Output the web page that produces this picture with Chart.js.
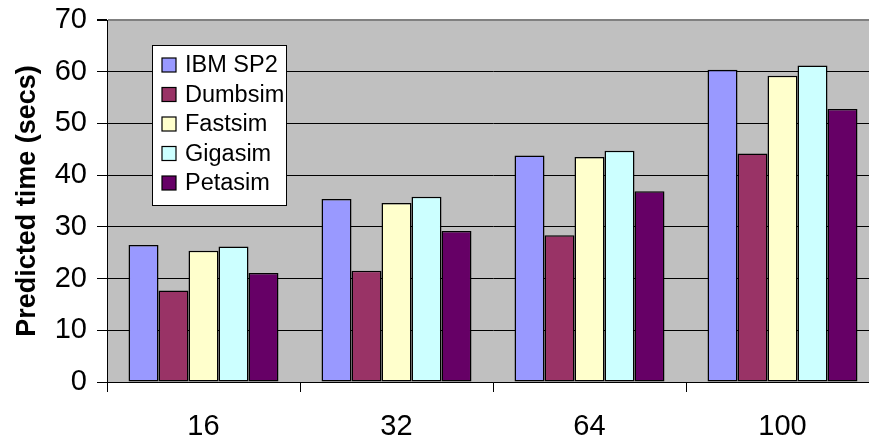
<!DOCTYPE html>
<html>
<head>
<meta charset="utf-8">
<script src="https://cdn.jsdelivr.net/npm/chart.js@4/dist/chart.umd.min.js"></script>
<style>
  html, body { margin: 0; padding: 0; background: #fff; overflow: hidden; }
  #wrap { width: 880px; height: 442px; }
</style>
</head>
<body>
<div id="wrap"><canvas id="c" width="880" height="442"></canvas></div>
<script>
// Processor counts on the x axis
const processors = ['16', '32', '64', '100'];

// Predicted run time (seconds) for each simulator
const ibmSP2   = [26.5, 35.4, 43.8, 60.4];
const dumbsim  = [17.7, 21.5, 28.4, 44.2];
const fastsim  = [25.4, 34.6, 43.5, 59.2];
const gigasim  = [26.2, 35.8, 44.7, 61.2];
const petasim  = [21.1, 29.2, 36.9, 52.8];

const seriesNames = ['IBM SP2', 'Dumbsim', 'Fastsim', 'Gigasim', 'Petasim'];
const seriesData = [ibmSP2, dumbsim, fastsim, gigasim, petasim];
const seriesColors = ['#9999FF', '#993366', '#FFFFCC', '#CCFFFF', '#660066'];

const FONT = '"Liberation Sans", Arial, sans-serif';

// Grey plot background behind the bars
const plotBackground = {
  id: 'plotBackground',
  beforeDraw(chart) {
    const { ctx, chartArea: a } = chart;
    ctx.save();
    ctx.fillStyle = '#C0C0C0';
    ctx.fillRect(a.left, a.top, a.right - a.left, a.bottom - a.top);
    ctx.restore();
  }
};

// Boxed legend floating inside the plot area
const boxedLegend = {
  id: 'boxedLegend',
  afterDraw(chart) {
    const { ctx } = chart;
    const x = 152, y = 45, w = 134, h = 160;
    ctx.save();
    ctx.fillStyle = '#fff';
    ctx.fillRect(x, y, w, h);
    ctx.strokeStyle = '#000';
    ctx.lineWidth = 1;
    ctx.strokeRect(x + 0.5, y + 0.5, w, h);
    ctx.font = '23.5px ' + FONT;
    ctx.textBaseline = 'middle';
    chart.data.datasets.forEach((ds, i) => {
      const cy = 65 + i * 29.5;
      ctx.fillStyle = ds.backgroundColor;
      ctx.fillRect(162, cy - 7, 14, 14);
      ctx.strokeStyle = '#000';
      ctx.lineWidth = 1.2;
      ctx.strokeRect(162, cy - 7, 14, 14);
      ctx.fillStyle = '#000';
      ctx.fillText(ds.label, 185, cy + 1);
    });
    ctx.restore();
  }
};

new Chart(document.getElementById('c'), {
  type: 'bar',
  data: {
    labels: processors,
    datasets: seriesNames.map((name, i) => ({
      label: name,
      data: seriesData[i],
      backgroundColor: seriesColors[i],
      borderColor: '#000',
      borderWidth: 1.5,
      borderSkipped: false,
      categoryPercentage: 0.777,
      barPercentage: 1.0
    }))
  },
  options: {
    responsive: false,
    animation: false,
    layout: { padding: { top: 20, left: 0, right: 1, bottom: 0 } },
    plugins: {
      legend: { display: false },
      tooltip: { enabled: false }
    },
    scales: {
      x: {
        offset: true,
        grid: {
          offset: true,
          drawOnChartArea: false,
          drawTicks: true,
          tickLength: 10,
          color: '#000',
          lineWidth: 1
        },
        border: { display: true, color: '#000', width: 1 },
        ticks: {
          color: '#000',
          font: { family: FONT, size: 29 },
          padding: 18
        },
        afterFit(scale) {
          scale.height = 60;
          scale.paddingLeft = 0;
          scale.paddingRight = 0;
        }
      },
      y: {
        min: 0,
        max: 70,
        ticks: {
          stepSize: 10,
          color: '#000',
          font: { family: FONT, size: 29 },
          padding: 10
        },
        grid: {
          color: (c) => (c.tick && c.tick.value === 70 ? '#808080' : '#000'),
          lineWidth: (c) => (c.tick && c.tick.value === 70 ? 2 : 1),
          tickColor: '#000',
          tickLength: 10,
          drawTicks: true
        },
        border: { display: true, color: '#000', width: 1 },
        title: {
          display: true,
          text: 'Predicted time (secs)',
          color: '#000',
          font: { family: FONT, size: 27, weight: 'bold' },
          padding: { top: 11, bottom: 0 }
        },
        afterFit(scale) {
          scale.width = 107;
          scale.paddingTop = 0;
          scale.paddingBottom = 0;
        }
      }
    }
  },
  plugins: [plotBackground, boxedLegend]
});
</script>
</body>
</html>
